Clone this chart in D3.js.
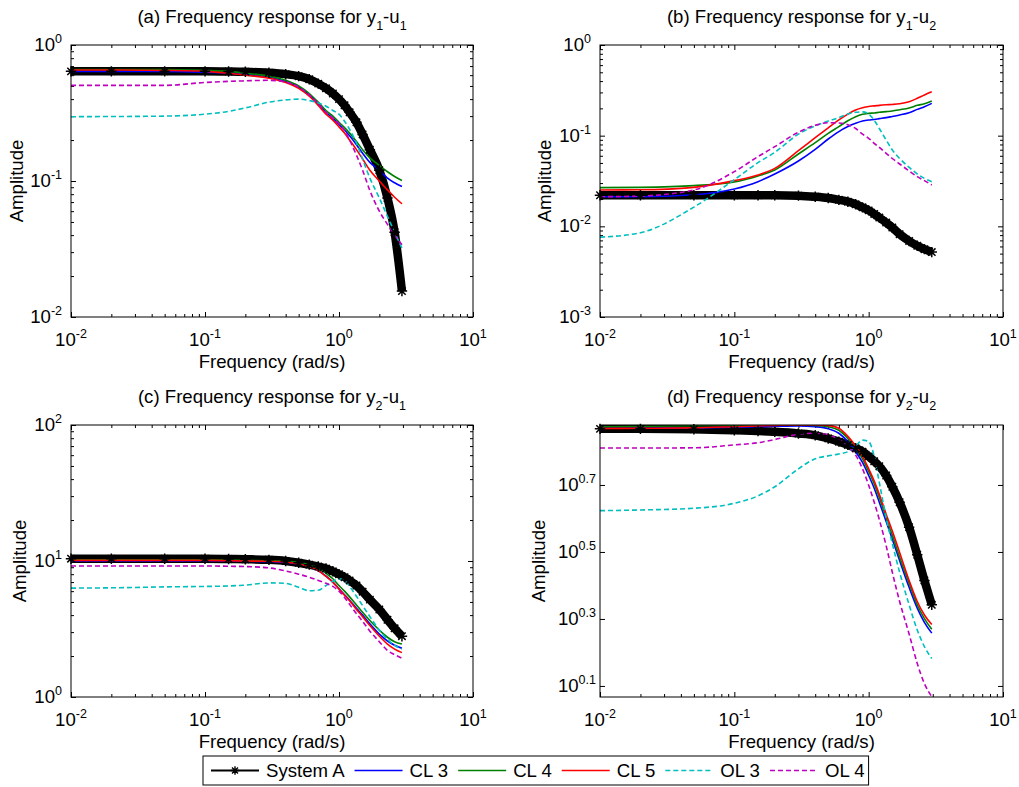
<!DOCTYPE html>
<html>
<head>
<meta charset="utf-8">
<script src="https://cdn.jsdelivr.net/npm/d3@7"></script>
<style>
  html, body { margin: 0; padding: 0; background: #fff; }
  svg { display: block; font-family: "Liberation Sans", Arial, Helvetica, sans-serif; }
</style>
</head>
<body>
<svg id="fig" width="1019" height="787"></svg>
<script>
// Frequency grid (rad/s) shared by every response curve
const freq = [0.01, 0.02, 0.05, 0.1, 0.15, 0.2, 0.3, 0.4, 0.5, 0.6, 0.7, 0.8, 0.9, 1.0, 1.1, 1.2, 1.35, 1.5, 1.7, 2.0, 2.3, 2.6, 2.95];

// Legend entries
const seriesNames = ["System A", "CL 3", "CL 4", "CL 5", "OL 3", "OL 4"];

// (a) y1-u1 amplitude
const sysA_a = [0.64, 0.64, 0.64, 0.64, 0.638, 0.635, 0.625, 0.61, 0.59, 0.56, 0.52, 0.48, 0.44, 0.40, 0.36, 0.32, 0.27, 0.22, 0.17, 0.12, 0.075, 0.042, 0.0155];
const cl3_a  = [0.64, 0.64, 0.64, 0.63, 0.62, 0.61, 0.58, 0.54, 0.49, 0.43, 0.37, 0.32, 0.29, 0.26, 0.237, 0.215, 0.185, 0.16, 0.137, 0.12, 0.105, 0.097, 0.091];
const cl4_a  = [0.66, 0.66, 0.66, 0.65, 0.64, 0.62, 0.59, 0.55, 0.50, 0.44, 0.38, 0.33, 0.30, 0.27, 0.247, 0.225, 0.195, 0.17, 0.148, 0.13, 0.117, 0.108, 0.101];
const cl5_a  = [0.655, 0.655, 0.65, 0.64, 0.62, 0.60, 0.57, 0.53, 0.48, 0.42, 0.36, 0.31, 0.28, 0.25, 0.225, 0.20, 0.17, 0.145, 0.12, 0.10, 0.086, 0.076, 0.068];
const ol3_a  = [0.297, 0.298, 0.30, 0.31, 0.325, 0.345, 0.38, 0.395, 0.40, 0.39, 0.375, 0.355, 0.33, 0.31, 0.275, 0.24, 0.19, 0.145, 0.105, 0.075, 0.055, 0.042, 0.032];
const ol4_a  = [0.505, 0.505, 0.505, 0.53, 0.54, 0.545, 0.55, 0.535, 0.49, 0.43, 0.37, 0.32, 0.29, 0.265, 0.235, 0.20, 0.155, 0.12, 0.085, 0.06, 0.048, 0.04, 0.034];

// (b) y1-u2 amplitude
const sysA_b = [0.022, 0.022, 0.022, 0.022, 0.022, 0.022, 0.0218, 0.0212, 0.0205, 0.0196, 0.0187, 0.0175, 0.0162, 0.015, 0.0137, 0.0125, 0.011, 0.0097, 0.0082, 0.0069, 0.0061, 0.0056, 0.0052];
const cl3_b  = [0.0212, 0.0212, 0.0223, 0.0258, 0.0311, 0.0378, 0.0526, 0.0707, 0.0919, 0.111, 0.126, 0.137, 0.145, 0.149, 0.151, 0.154, 0.158, 0.163, 0.169, 0.179, 0.195, 0.209, 0.227];
const cl4_b  = [0.0267, 0.0269, 0.0281, 0.0308, 0.0359, 0.0418, 0.0628, 0.0837, 0.106, 0.126, 0.146, 0.162, 0.172, 0.176, 0.178, 0.181, 0.184, 0.187, 0.193, 0.202, 0.216, 0.225, 0.241];
const cl5_b  = [0.0252, 0.0253, 0.0269, 0.0319, 0.0368, 0.0436, 0.0684, 0.095, 0.122, 0.149, 0.173, 0.192, 0.203, 0.21, 0.213, 0.216, 0.219, 0.221, 0.225, 0.237, 0.258, 0.281, 0.305];
const ol3_b  = [0.0076, 0.0085, 0.0163, 0.0327, 0.0504, 0.0654, 0.104, 0.128, 0.145, 0.158, 0.173, 0.181, 0.183, 0.173, 0.148, 0.12, 0.0895, 0.0695, 0.056, 0.0448, 0.0378, 0.0338, 0.0311];
const ol4_b  = [0.0212, 0.0216, 0.0252, 0.0401, 0.0587, 0.0756, 0.109, 0.130, 0.139, 0.138, 0.132, 0.12, 0.104, 0.0935, 0.0823, 0.0743, 0.0638, 0.056, 0.0487, 0.0408, 0.0353, 0.0319, 0.0286];

// (c) y2-u1 amplitude
const sysA_c = [10.4, 10.4, 10.4, 10.4, 10.35, 10.3, 10.2, 10.0, 9.7, 9.4, 9.1, 8.8, 8.4, 8.0, 7.6, 7.2, 6.6, 5.95, 5.2, 4.4, 3.7, 3.2, 2.8];
const cl3_c  = [10.0, 10.0, 10.0, 10.0, 10.0, 9.95, 9.9, 9.75, 9.5, 9.1, 8.5, 7.75, 7.0, 6.25, 5.65, 5.15, 4.5, 4.0, 3.45, 2.9, 2.58, 2.4, 2.28];
const cl4_c  = [10.2, 10.2, 10.2, 10.2, 10.15, 10.1, 10.05, 9.95, 9.75, 9.4, 8.9, 8.1, 7.4, 6.6, 6.0, 5.45, 4.75, 4.2, 3.65, 3.1, 2.75, 2.55, 2.45];
const cl5_c  = [10.1, 10.1, 10.1, 10.1, 10.05, 10.0, 9.95, 9.8, 9.5, 9.1, 8.5, 7.7, 7.0, 6.2, 5.6, 5.1, 4.4, 3.9, 3.35, 2.8, 2.45, 2.25, 2.12];
const ol3_c  = [6.32, 6.35, 6.45, 6.5, 6.55, 6.65, 6.9, 6.85, 6.4, 6.05, 6.1, 6.6, 7.1, 7.4, 7.2, 6.5, 5.5, 4.7, 3.9, 3.1, 2.65, 2.4, 2.25];
const ol4_c  = [9.2, 9.2, 9.2, 9.2, 9.15, 9.1, 8.9, 8.45, 8.0, 7.6, 7.2, 6.85, 6.5, 6.0, 5.4, 4.8, 4.1, 3.6, 3.05, 2.55, 2.2, 2.05, 1.93];

// (d) y2-u2 amplitude
const sysA_d = [7.37, 7.37, 7.35, 7.3, 7.26, 7.22, 7.14, 7.05, 6.9, 6.75, 6.6, 6.45, 6.3, 6.1, 5.9, 5.7, 5.35, 4.95, 4.45, 3.75, 3.1, 2.6, 2.2];
const cl3_d  = [7.40, 7.40, 7.42, 7.45, 7.48, 7.5, 7.52, 7.48, 7.38, 7.15, 6.75, 6.3, 5.85, 5.35, 4.9, 4.45, 3.9, 3.45, 2.98, 2.48, 2.15, 1.95, 1.81];
const cl4_d  = [7.48, 7.5, 7.53, 7.56, 7.57, 7.57, 7.57, 7.55, 7.48, 7.3, 6.9, 6.45, 6.0, 5.5, 5.05, 4.6, 4.0, 3.55, 3.05, 2.55, 2.2, 2.0, 1.86];
const cl5_d  = [7.39, 7.4, 7.42, 7.48, 7.52, 7.55, 7.57, 7.57, 7.55, 7.4, 7.0, 6.55, 6.1, 5.6, 5.15, 4.7, 4.1, 3.65, 3.15, 2.6, 2.25, 2.05, 1.92];
const ol3_d  = [4.2, 4.22, 4.27, 4.42, 4.65, 4.95, 5.6, 6.0, 6.12, 6.2, 6.3, 6.55, 6.82, 6.75, 6.1, 5.1, 4.0, 3.35, 2.75, 2.2, 1.85, 1.65, 1.52];
const ol4_d  = [6.46, 6.46, 6.47, 6.6, 6.7, 6.85, 7.1, 7.15, 7.08, 6.85, 6.55, 6.15, 5.6, 5.0, 4.45, 3.95, 3.3, 2.75, 2.25, 1.8, 1.47, 1.28, 1.17];

// Axis tick exponents (labels are 10^exp)
const xTickExps = ["-2", "-1", "0", "1"];
const yTickExps_a = ["-2", "-1", "0"];
const yTickExps_b = ["-3", "-2", "-1", "0"];
const yTickExps_c = ["0", "1", "2"];
const yTickExps_d = ["0.1", "0.3", "0.5", "0.7"];

// ---------------------------------------------------------------------------
const FS = 18.6;       // main font size
const SUP = 12.5;      // superscript / subscript size

const styles = [
  { color: "#000000", width: 8.5, dash: null, star: true },
  { color: "#0000ff", width: 1.6, dash: null },
  { color: "#008000", width: 1.6, dash: null },
  { color: "#ff0000", width: 1.6, dash: null },
  { color: "#00bfbf", width: 1.6, dash: "5,3" },
  { color: "#bf00bf", width: 1.6, dash: "5,3" }
];

const panels = [
  { id: "a", label: "(a)", yo: "1", uo: "1", box: { l: 71, r: 473, t: 45, b: 317 },
    yDom: [1e-2, 1e0], yTicks: yTickExps_a, minorY: true, ylabOff: 48, tickGap: 9,
    data: [sysA_a, cl3_a, cl4_a, cl5_a, ol3_a, ol4_a] },
  { id: "b", label: "(b)", yo: "1", uo: "2", box: { l: 600, r: 1003, t: 45, b: 317 },
    yDom: [1e-3, 1e0], yTicks: yTickExps_b, minorY: true, ylabOff: 49, tickGap: 9,
    data: [sysA_b, cl3_b, cl4_b, cl5_b, ol3_b, ol4_b] },
  { id: "c", label: "(c)", yo: "2", uo: "1", box: { l: 71, r: 473, t: 425, b: 697 },
    yDom: [1e0, 1e2], yTicks: yTickExps_c, minorY: true, ylabOff: 45, tickGap: 9,
    data: [sysA_c, cl3_c, cl4_c, cl5_c, ol3_c, ol4_c] },
  { id: "d", label: "(d)", yo: "2", uo: "2", box: { l: 600, r: 1003, t: 425, b: 697 },
    yDom: [Math.pow(10, 0.067), Math.pow(10, 0.879)], yTicks: yTickExps_d, minorY: false, ylabOff: 55, tickGap: 4,
    data: [sysA_d, cl3_d, cl4_d, cl5_d, ol3_d, ol4_d] }
];

const svg = d3.select("#fig");
svg.append("rect").attr("width", 1019).attr("height", 787).attr("fill", "#fff");

const starPath = "M-5.2,0H5.2M0,-5.2V5.2M-3.7,-3.7L3.7,3.7M-3.7,3.7L3.7,-3.7";
const legStarPath = "M-4.2,0H4.2M0,-4.2V4.2M-3,-3L3,3M-3,3L3,-3";
const isPow10 = v => Math.abs(Math.log10(v) - Math.round(Math.log10(v))) < 1e-6;

function powLabel(text, exp) {
  text.append("tspan").text("10");
  text.append("tspan").attr("dy", -8).attr("font-size", SUP).text(exp);
}

panels.forEach(p => {
  const b = p.box;
  const x = d3.scaleLog().domain([1e-2, 1e1]).range([b.l, b.r]);
  const y = d3.scaleLog().domain(p.yDom).range([b.b, b.t]);
  const g = svg.append("g").attr("class", "panel-" + p.id);

  // clip region for curves
  g.append("clipPath").attr("id", "clip-" + p.id)
    .append("rect").attr("x", b.l).attr("y", b.t).attr("width", b.r - b.l).attr("height", b.b - b.t);

  // tick marks (inside, all four sides)
  const xMajor = xTickExps.map(e => Math.pow(10, +e));
  const xMinor = x.ticks().filter(v => !isPow10(v));
  const yMajor = p.yTicks.map(e => Math.pow(10, +e));
  const yMinor = p.minorY ? y.ticks().filter(v => !isPow10(v)) : [];
  const MAJ = 5, MIN = 3;
  const tickAxis = (axis, tr) => {
    const a = g.append("g").attr("transform", tr).call(axis);
    a.select(".domain").remove();
    a.selectAll("line").attr("stroke", "#000").attr("stroke-width", 1);
    a.selectAll("text").remove();
  };
  [[xMajor, MAJ], [xMinor, MIN]].forEach(([vals, len]) => {
    tickAxis(d3.axisBottom(x).tickValues(vals).tickSize(-len).tickSizeOuter(0), `translate(0,${b.b})`);
    tickAxis(d3.axisTop(x).tickValues(vals).tickSize(-len).tickSizeOuter(0), `translate(0,${b.t})`);
  });
  [[yMajor, MAJ], [yMinor, MIN]].forEach(([vals, len]) => {
    if (!vals.length) return;
    tickAxis(d3.axisLeft(y).tickValues(vals).tickSize(-len).tickSizeOuter(0), `translate(${b.l},0)`);
    tickAxis(d3.axisRight(y).tickValues(vals).tickSize(-len).tickSizeOuter(0), `translate(${b.r},0)`);
  });

  // curves
  const line = d3.line().x(d => x(d[0])).y(d => y(d[1])).curve(d3.curveMonotoneX);
  const curves = g.append("g").attr("clip-path", `url(#clip-${p.id})`);
  p.data.forEach((vals, i) => {
    const st = styles[i];
    const pts = freq.map((f, k) => [f, vals[k]]);
    curves.append("path")
      .attr("d", line(pts))
      .attr("fill", "none")
      .attr("stroke", st.color)
      .attr("stroke-width", st.width)
      .attr("stroke-linejoin", "round")
      .attr("stroke-dasharray", st.dash);
    if (st.star) {
      g.append("g").selectAll("path").data(pts).join("path")
        .attr("transform", d => `translate(${x(d[0])},${y(d[1])})`)
        .attr("d", starPath)
        .attr("stroke", st.color)
        .attr("stroke-width", 1.5)
        .attr("fill", "none");
    }
  });

  // frame
  g.append("rect").attr("x", b.l).attr("y", b.t).attr("width", b.r - b.l).attr("height", b.b - b.t)
    .attr("fill", "none").attr("stroke", "#000").attr("stroke-width", 1);

  // x tick labels
  xTickExps.forEach(e => {
    const t = g.append("text").attr("x", x(Math.pow(10, +e))).attr("y", b.b + 29)
      .attr("text-anchor", "middle").attr("font-size", FS).attr("fill", "#000");
    powLabel(t, e);
  });
  // y tick labels
  p.yTicks.forEach(e => {
    const t = g.append("text").attr("x", b.l - p.tickGap).attr("y", y(Math.pow(10, +e)) + 6)
      .attr("text-anchor", "end").attr("font-size", FS).attr("fill", "#000");
    powLabel(t, e);
  });

  const cx = (b.l + b.r) / 2;
  // axis labels
  g.append("text").attr("x", cx).attr("y", b.b + 51).attr("text-anchor", "middle")
    .attr("font-size", FS).text("Frequency (rad/s)");
  g.append("text").attr("transform", `translate(${b.l - p.ylabOff},${(b.t + b.b) / 2}) rotate(-90)`)
    .attr("text-anchor", "middle").attr("font-size", FS).text("Amplitude");

  // title with subscripts
  const tt = g.append("text").attr("x", cx).attr("y", b.t - 22.5).attr("text-anchor", "middle")
    .attr("font-size", FS);
  tt.append("tspan").text(p.label + " Frequency response for y");
  tt.append("tspan").attr("dy", 7).attr("font-size", SUP).text(p.yo);
  tt.append("tspan").attr("dy", -7).text("-u");
  tt.append("tspan").attr("dy", 7).attr("font-size", SUP).text(p.uo);
});

// legend
const leg = svg.append("g").attr("class", "legend");
const legBox = leg.append("rect").attr("y", 756).attr("height", 29)
  .attr("fill", "#fff").attr("stroke", "#000").attr("stroke-width", 1);
let lx = 211;
const ly = 770.5;
seriesNames.forEach((name, i) => {
  const st = styles[i];
  leg.append("line").attr("x1", lx).attr("x2", lx + 48).attr("y1", ly).attr("y2", ly)
    .attr("stroke", st.color).attr("stroke-width", st.star ? 2 : 1.6)
    .attr("stroke-dasharray", st.dash);
  if (st.star) {
    leg.append("path").attr("transform", `translate(${lx + 24},${ly})`).attr("d", legStarPath)
      .attr("stroke", st.color).attr("stroke-width", 1.4).attr("fill", "none");
  }
  const t = leg.append("text").attr("x", lx + 55).attr("y", ly + 6.5).attr("font-size", FS).text(name);
  lx = lx + 55 + t.node().getComputedTextLength() + 10;
});
legBox.attr("x", 203).attr("width", lx - 6 - 203);
</script>
</body>
</html>
